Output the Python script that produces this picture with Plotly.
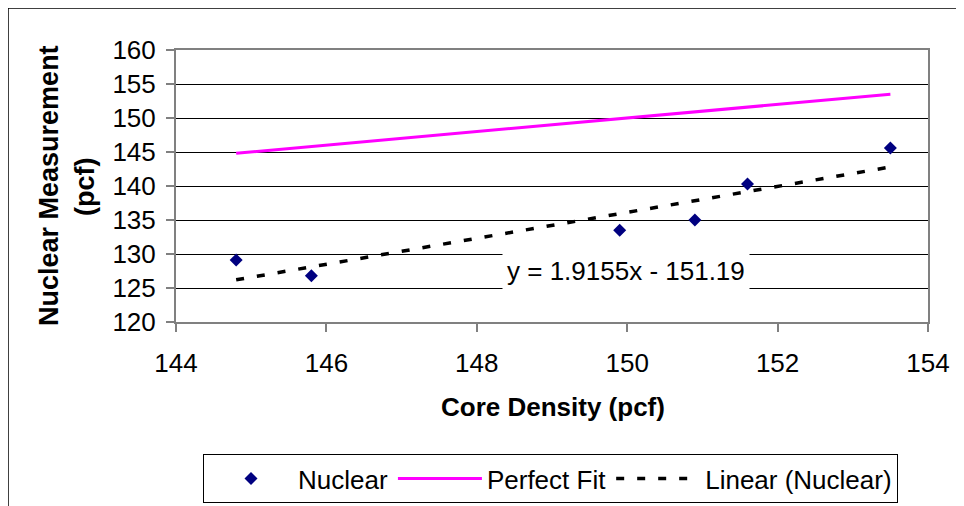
import plotly.graph_objects as go

# ---- data ----
core_density = [144.8, 145.8, 149.9, 150.9, 151.6, 153.5]
nuclear = [129.1, 126.8, 133.5, 135.0, 140.3, 145.6]

perfect_x = [144.8, 153.5]
perfect_y = [144.8, 153.5]

trend_x = [144.8, 153.5]
trend_y = [126.2, 142.8]

x_ticks = [144, 146, 148, 150, 152, 154]
y_ticks = [120, 125, 130, 135, 140, 145, 150, 155, 160]

equation_text = "y = 1.9155x - 151.19"
equation_pos = (149.98, 127.5)

# page body adds an 8px margin, so the figure is drawn 8px smaller and shifted
OFF = 8
W, H = 964 - OFF, 506 - OFF
# plot area in reference pixel coordinates
PL, PR, PT, PB = 176, 928, 50, 322
L, R, T, B = PL - OFF, (964 - PR), PT - OFF, (506 - PB)
PW, PH = PR - PL, PB - PT


def px(xp):
    return (xp - PL) / PW


def py(yp):
    return (PB - yp) / PH


FONT = "Arial, Liberation Sans, sans-serif"

fig = go.Figure()
fig.add_trace(go.Scatter(
    x=core_density, y=nuclear, mode="markers", name="Nuclear",
    marker=dict(symbol="diamond", size=10, color="#000080"),
))
fig.add_trace(go.Scatter(
    x=perfect_x, y=perfect_y, mode="lines", name="Perfect Fit",
    line=dict(color="#FF00FF", width=3),
))
fig.add_trace(go.Scatter(
    x=trend_x, y=trend_y, mode="lines", name="Linear (Nuclear)",
    line=dict(color="black", width=3.5, dash="8px,13px"),
))

fig.update_layout(
    width=W, height=H,
    margin=dict(l=L, r=R, t=T, b=B, autoexpand=False),
    paper_bgcolor="white", plot_bgcolor="white",
    font=dict(family=FONT, size=26, color="black"),
    showlegend=True,
    legend=dict(
        orientation="h", x=px(203), y=py(454), xanchor="left", yanchor="top",
        bordercolor="black", borderwidth=1, bgcolor="white",
        font=dict(family=FONT, size=26, color="black"),
        itemwidth=84,
    ),
    xaxis=dict(
        range=[144, 154], tickvals=x_ticks, ticktext=[str(v) for v in x_ticks],
        showgrid=False, zeroline=False,
        showline=True, linecolor="#808080", linewidth=2, mirror=True,
        ticks="outside", ticklen=8, tickcolor="#808080", tickwidth=1.5,
        tickfont=dict(family=FONT, size=26, color="black"),
        ticklabelstandoff=9,
    ),
    yaxis=dict(
        range=[120, 160], tickvals=y_ticks, ticktext=[str(v) for v in y_ticks],
        showgrid=True, gridcolor="black", gridwidth=1, zeroline=False,
        showline=True, linecolor="#808080", linewidth=2, mirror=True,
        ticks="outside", ticklen=8, tickcolor="#808080", tickwidth=1.5,
        tickfont=dict(family=FONT, size=26, color="black"),
        ticklabelstandoff=5,
    ),
    annotations=[
        dict(x=equation_pos[0], y=equation_pos[1], xref="x", yref="y",
             text=equation_text, showarrow=False, bgcolor="white",
             borderpad=4, font=dict(family=FONT, size=26, color="black")),
        dict(x=px(553), y=py(407), xref="paper", yref="paper",
             text="<b>Core Density (pcf)</b>", showarrow=False,
             xanchor="center", yanchor="middle",
             font=dict(family=FONT, size=26, color="black")),
        dict(x=px(49), y=py(186), xref="paper", yref="paper",
             text="<b>Nuclear Measurement</b>", showarrow=False, textangle=-90,
             xanchor="center", yanchor="middle",
             font=dict(family=FONT, size=27, color="black")),
        dict(x=px(85), y=py(187), xref="paper", yref="paper",
             text="<b>(pcf)</b>", showarrow=False, textangle=-90,
             xanchor="center", yanchor="middle",
             font=dict(family=FONT, size=27, color="black")),
    ],
    shapes=[
        dict(type="line", xref="paper", yref="paper",
             x0=px(8), x1=px(970), y0=py(8), y1=py(8),
             line=dict(color="black", width=1.5)),
        dict(type="line", xref="paper", yref="paper",
             x0=px(8), x1=px(8), y0=py(8), y1=py(520),
             line=dict(color="black", width=1.5)),
    ],
)

fig.write_html("out.html")
